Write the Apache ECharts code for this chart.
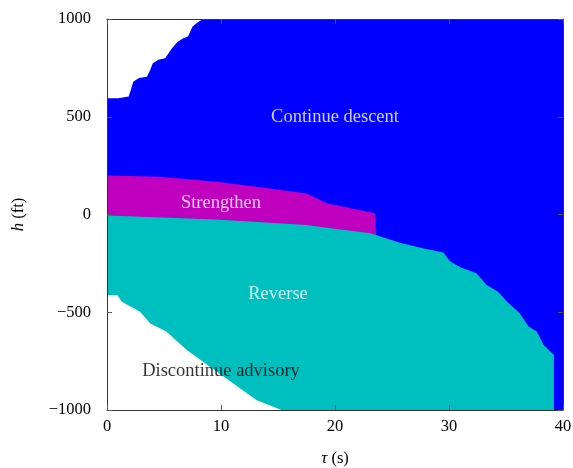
<!DOCTYPE html>
<html>
<head>
<meta charset="utf-8">
<script src="https://cdn.jsdelivr.net/npm/echarts@6/dist/echarts.min.js"></script>
<style>
  html, body { margin: 0; padding: 0; background: #fff; }
  #chart { width: 573px; height: 468px; }
</style>
</head>
<body>
<div id="chart"></div>
<script>
// Upper edge of the "Continue descent" region (below it everything is blue)
const descentTau = [0, 1.0, 1.5, 1.9, 2.1, 2.3, 2.8, 3.5, 3.8, 4.0, 4.5, 5.1, 5.4, 5.7, 6.2, 6.7, 7.1, 7.3, 7.5, 8.0, 8.4, 40];
const descentH   = [595, 595, 600, 603, 640, 679, 698, 705, 740, 773, 792, 799, 825, 850, 884, 902, 910, 935, 961, 985, 1000, 1000];

// Upper edge of the "Strengthen" region, ending with its right-hand cut
const strengthenTau = [0, 4.6, 9.6, 13.5, 17.5, 19.3, 23.5, 23.6];
const strengthenH   = [200, 193, 168, 140, 108, 57, 6, -96];

// Upper edge of the "Reverse" region, dropping to the floor at its right end
const reverseTau = [0, 9.6, 17.5, 19.8, 23.1, 25.7, 27.7, 29.5, 30.1, 31.0, 32.4, 33.3, 34.3, 35.1, 36.2, 37.0, 37.7, 38.3, 39.2, 39.2];
const reverseH   = [-5, -25, -54, -71, -96, -145, -173, -195, -241, -270, -301, -361, -395, -446, -505, -574, -599, -668, -719, -1000];

// Upper edge of the "Discontinue advisory" region
const discontinueTau = [0, 0.9, 1.3, 2.9, 3.8, 5.2, 7.0, 9.0, 11.05, 13.1, 15.3];
const discontinueH   = [-412, -412, -446, -497, -557, -599, -693, -778, -863, -949, -1000];

// Region labels
const regionNames = ['Continue descent', 'Strengthen', 'Reverse', 'Discontinue advisory'];
const regionTau   = [20, 10, 15, 10];
const regionH     = [500, 57, -405, -800];
const regionInk   = ['#ffffff', '#ffffff', '#ffffff', '#000000'];

// Axis ticks
const tauTicks = [0, 10, 20, 30, 40];
const hTicks = [-1000, -500, 0, 500, 1000];

const BLUE = '#0000ff', MAGENTA = '#bf00bf', CYAN = '#00bfbf', WHITE = '#ffffff';
const SERIF = '"Liberation Serif", "DejaVu Serif", serif';

function pairs(xs, ys) { return xs.map((x, i) => [x, ys[i]]); }

function region(name, xs, ys, color) {
  return {
    name: name,
    type: 'line',
    data: pairs(xs, ys),
    showSymbol: false,
    symbol: 'none',
    silent: true,
    lineStyle: { width: 0, opacity: 0 },
    areaStyle: { color: color, opacity: 1, origin: 'start' },
    z: 2
  };
}

const frameLine = { show: true, onZero: false, lineStyle: { color: '#333', width: 1 } };
const inTicks = { show: true, inside: true, length: 5, lineStyle: { color: '#555', width: 1 } };
const minus = v => String(v).replace('-', '\u2212');

const chart = echarts.init(document.getElementById('chart'), null, { renderer: 'canvas' });
chart.setOption({
  animation: false,
  backgroundColor: '#fff',
  grid: { left: 107, right: 10, top: 19, bottom: 58, containLabel: false, outerBoundsMode: 'none' },
  xAxis: [
    {
      type: 'value', position: 'bottom', min: tauTicks[0], max: tauTicks[tauTicks.length - 1],
      interval: tauTicks[1] - tauTicks[0],
      axisLine: frameLine, axisTick: inTicks, splitLine: { show: false },
      axisLabel: { color: '#000', fontFamily: SERIF, fontSize: 16.5, margin: 8, formatter: minus },
      name: '{g|τ} (s)', nameLocation: 'middle', nameGap: 40,
      nameTextStyle: { color: '#000', fontFamily: SERIF, fontSize: 16.5,
        rich: { g: { fontFamily: SERIF, fontSize: 17, fontStyle: 'italic', color: '#000' } } },
      z: 10
    },
    {
      type: 'value', position: 'top', min: tauTicks[0], max: tauTicks[tauTicks.length - 1],
      interval: tauTicks[1] - tauTicks[0],
      axisLine: frameLine, axisTick: inTicks, axisLabel: { show: false }, splitLine: { show: false },
      z: 10
    }
  ],
  yAxis: [
    {
      type: 'value', position: 'left', min: hTicks[0], max: hTicks[hTicks.length - 1],
      interval: hTicks[1] - hTicks[0],
      axisLine: frameLine, axisTick: inTicks, splitLine: { show: false },
      axisLabel: { color: '#000', fontFamily: SERIF, fontSize: 16.5, margin: 16, formatter: minus },
      name: '{i|h} (ft)', nameLocation: 'middle', nameGap: 80, nameRotate: 90,
      nameTextStyle: { color: '#000', fontFamily: SERIF, fontSize: 16.5,
        rich: { i: { fontFamily: SERIF, fontSize: 16.5, fontStyle: 'italic', color: '#000' } } },
      z: 10
    },
    {
      type: 'value', position: 'right', min: hTicks[0], max: hTicks[hTicks.length - 1],
      interval: hTicks[1] - hTicks[0],
      axisLine: frameLine, axisTick: inTicks, axisLabel: { show: false }, splitLine: { show: false },
      z: 10
    }
  ],
  series: [
    region('Continue descent', descentTau, descentH, BLUE),
    region('Strengthen', strengthenTau, strengthenH, MAGENTA),
    region('Reverse', reverseTau, reverseH, CYAN),
    region('Discontinue advisory', discontinueTau, discontinueH, WHITE),
    {
      name: 'labels',
      type: 'scatter',
      silent: true,
      symbolSize: 0,
      z: 5,
      data: regionNames.map((n, i) => ({
        value: [regionTau[i], regionH[i]],
        label: {
          show: true, position: 'inside', formatter: n,
          color: regionInk[i], fontFamily: SERIF, fontSize: 18.5
        }
      }))
    }
  ]
});
</script>
</body>
</html>
